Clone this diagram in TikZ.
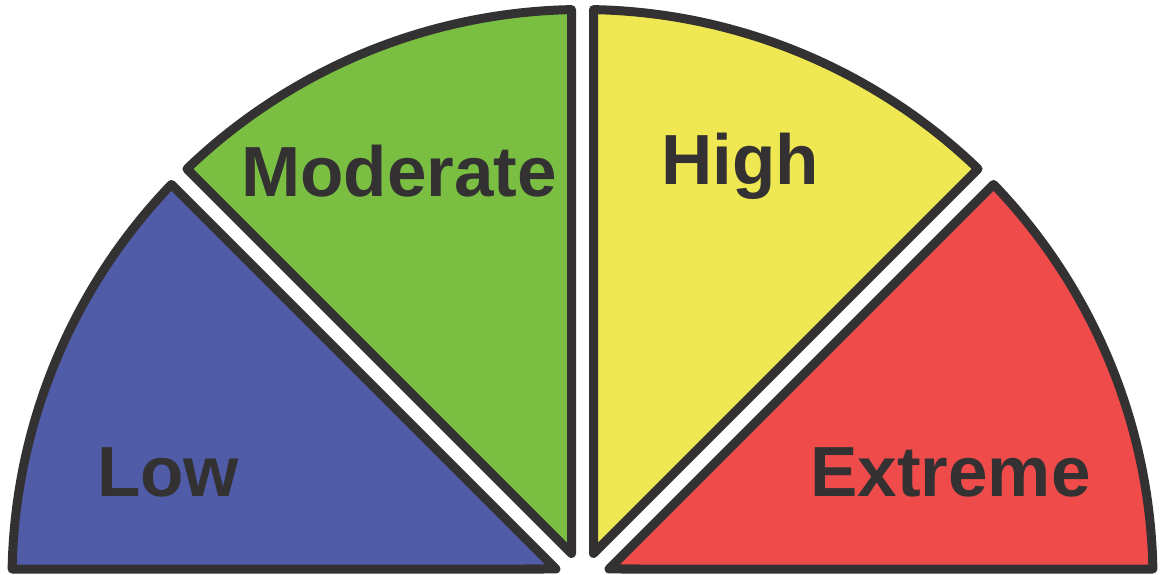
\documentclass[tikz,border=0pt]{standalone}
\usepackage{fontspec}
\setmainfont{Liberation Sans}
\usetikzlibrary{calc}
\definecolor{edge}{HTML}{333132}
\definecolor{cblue}{HTML}{505CA8}
\definecolor{cgreen}{HTML}{7ABF42}
\definecolor{cyellow}{HTML}{F0E853}
\definecolor{cred}{HTML}{EE4B4A}
\begin{document}
\begin{tikzpicture}[x=1pt,y=1pt,
  sector/.style={draw=edge,line width=9pt,line join=round},
  lbl/.style={anchor=base,inner sep=0pt,text=edge,font=\fontsize{71}{71}\selectfont\bfseries}]
\useasboundingbox (0,0) rectangle (1162,575);
\clip (0,0) rectangle (1162,575);
\def\R{570.5}
\def\dd{1.105}
\def\ap{28.74}
\coordinate (C) at (582.5,-5);
% Low: 135..180
\draw[sector,fill=cblue] ($(C)+(157.5:\ap)$) -- ($(C)+(135+\dd:\R)$)
  arc[start angle=135+\dd,end angle=180-\dd,radius=\R] -- cycle;
% Moderate: 90..135
\draw[sector,fill=cgreen] ($(C)+(112.5:\ap)$) -- ($(C)+(90+\dd:\R)$)
  arc[start angle=90+\dd,end angle=135-\dd,radius=\R] -- cycle;
% High: 45..90
\draw[sector,fill=cyellow] ($(C)+(67.5:\ap)$) -- ($(C)+(45+\dd:\R)$)
  arc[start angle=45+\dd,end angle=90-\dd,radius=\R] -- cycle;
% Extreme: 0..45
\draw[sector,fill=cred] ($(C)+(22.5:\ap)$) -- ($(C)+(\dd:\R)$)
  arc[start angle=\dd,end angle=45-\dd,radius=\R] -- cycle;
\node[lbl] (low) at (168,78) {Low};
\node[lbl] (moderate) at (399,378) {Moderate};
\node[lbl] (high) at (740,390) {High};
\node[lbl] (extreme) at (950.5,78) {Extreme};
\end{tikzpicture}
\end{document}
